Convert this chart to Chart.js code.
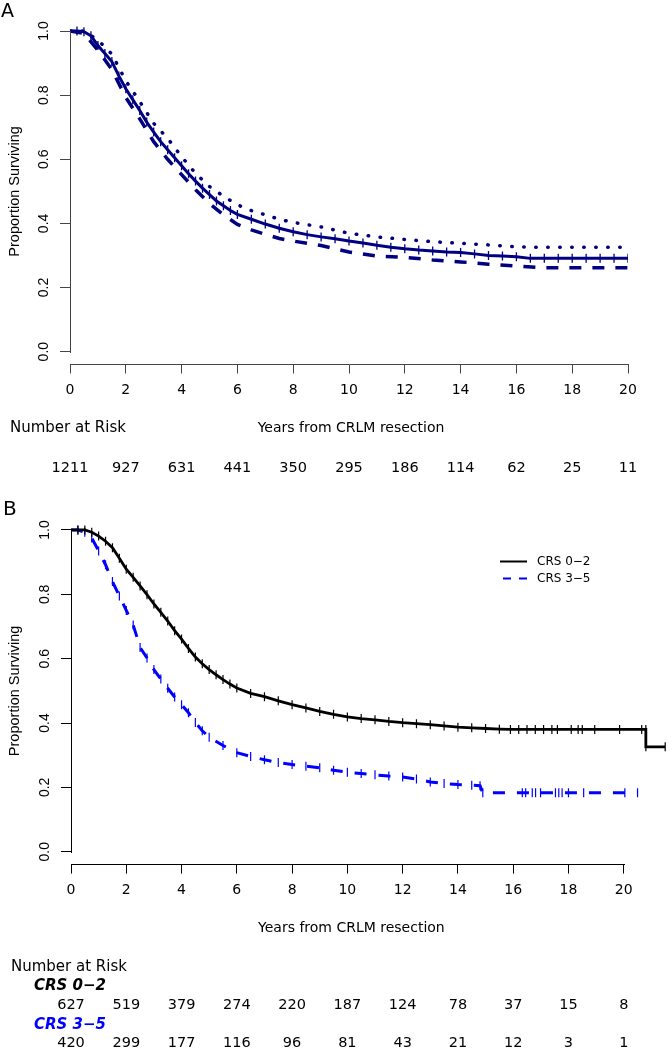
<!DOCTYPE html>
<html>
<head>
<meta charset="utf-8">
<script src="https://cdn.jsdelivr.net/npm/chart.js@4.4.0/dist/chart.umd.min.js"></script>
<style>
body { margin: 0; background: #fff; }
canvas { display: block; }
</style>
</head>
<body>
<canvas id="chartA" width="672" height="490"></canvas>
<canvas id="chartB" width="672" height="560"></canvas>
<script>
// values
var xTicks = [0, 2, 4, 6, 8, 10, 12, 14, 16, 18, 20];
var yTicks = [0, 0.2, 0.4, 0.6, 0.8, 1.0];

// A - all patients, KM estimate with confidence band
var timesA = [0, 0.25, 0.5, 0.75, 1, 1.25, 1.5, 1.75, 2, 2.25, 2.5, 2.75, 3, 3.25, 3.5, 3.75, 4, 4.25, 4.5, 4.75, 5, 5.25, 5.5, 5.75, 6,
  6.5, 7, 7.5, 8, 8.5, 9, 9.5, 10, 10.5, 11, 11.5, 12, 12.5, 13, 13.5, 14, 14.5, 15, 15.5, 16, 16.5, 17, 17.5, 18, 18.5, 19, 19.5, 20];
var survA = [1, 1, 0.998, 0.985, 0.955, 0.93, 0.905, 0.86, 0.82, 0.786, 0.752, 0.716, 0.685, 0.655, 0.63, 0.605, 0.58, 0.555, 0.532, 0.51, 0.49, 0.47, 0.455, 0.44, 0.428,
  0.413, 0.398, 0.385, 0.374, 0.365, 0.358, 0.352, 0.345, 0.339, 0.332, 0.326, 0.321, 0.317, 0.314, 0.311, 0.309, 0.305, 0.300, 0.298, 0.296, 0.291, 0.291, 0.291, 0.291, 0.291, 0.291, 0.291, 0.291];
var ciTimesA = [0, 0.5, 1, 1.5, 2, 2.5, 3, 3.5, 4, 4.5, 5, 5.5, 6, 6.5, 7, 7.5, 8, 9, 10, 11, 12, 13, 14, 15, 16, 17, 18, 19, 20];
var upperA = [1, 1, 0.972, 0.928, 0.845, 0.78, 0.712, 0.665, 0.608, 0.556, 0.515, 0.485, 0.458, 0.44, 0.427, 0.413, 0.403, 0.389, 0.369, 0.358, 0.35, 0.343, 0.338, 0.333, 0.327, 0.3255, 0.3255, 0.3255, 0.3255];
var lowerA = [1, 0.993, 0.94, 0.88, 0.793, 0.726, 0.655, 0.6, 0.552, 0.505, 0.462, 0.427, 0.397, 0.38, 0.366, 0.353, 0.345, 0.331, 0.311, 0.298, 0.294, 0.286, 0.28, 0.273, 0.267, 0.262, 0.262, 0.262, 0.262];
var riskA = [1211, 927, 631, 441, 350, 295, 186, 114, 62, 25, 11];

// B - by clinical risk score
var timesLow = [0, 0.25, 0.5, 0.75, 1, 1.25, 1.5, 1.75, 2, 2.25, 2.5, 2.75, 3, 3.25, 3.5, 3.75, 4, 4.25, 4.5, 4.75, 5, 5.25, 5.5, 5.75, 6,
  6.5, 7, 7.5, 8, 8.5, 9, 9.5, 10, 10.5, 11, 11.5, 12, 12.5, 13, 13.5, 14, 14.5, 15, 15.5, 15.9,
  16.2, 16.5, 16.8, 17.1, 17.4, 17.6, 18.1, 18.35, 18.5, 18.95, 19.85, 20.65, 20.8, 20.8, 21.5];
var survLow = [1, 1, 1, 0.993, 0.981, 0.965, 0.945, 0.912, 0.878, 0.853, 0.826, 0.799, 0.77, 0.744, 0.717, 0.687, 0.661, 0.632, 0.605, 0.584, 0.566, 0.55, 0.535, 0.521, 0.509,
  0.492, 0.482, 0.469, 0.457, 0.447, 0.436, 0.427, 0.419, 0.414, 0.41, 0.405, 0.401, 0.398, 0.395, 0.391, 0.387, 0.385, 0.383, 0.381, 0.38,
  0.38, 0.38, 0.38, 0.38, 0.38, 0.38, 0.38, 0.38, 0.38, 0.38, 0.38, 0.38, 0.38, 0.326, 0.326];
var timesHigh = [0, 0.25, 0.5, 0.75, 1, 1.25, 1.5, 1.75, 2, 2.25, 2.5, 2.75, 3, 3.25, 3.5, 3.75, 4, 4.25, 4.5, 4.75, 5,
  5.5, 6, 6.5, 7, 7.5, 8, 8.5, 9, 9.5, 10, 10.5, 11, 11.5, 12, 12.5, 13, 13.5, 14, 14.5, 14.8, 14.9,
  16.33, 16.45, 16.69, 16.81, 16.99, 17.53, 17.65, 17.77, 18.0, 18.55, 20.04, 20.5];
var survHigh = [1, 1, 0.993, 0.975, 0.935, 0.892, 0.84, 0.795, 0.75, 0.705, 0.635, 0.602, 0.566, 0.537, 0.508, 0.481, 0.457, 0.432, 0.402, 0.376, 0.356,
  0.33, 0.308, 0.296, 0.286, 0.277, 0.271, 0.266, 0.261, 0.253, 0.247, 0.243, 0.239, 0.235, 0.232, 0.226, 0.217, 0.212, 0.209, 0.207, 0.205, 0.183,
  0.183, 0.183, 0.183, 0.183, 0.183, 0.183, 0.183, 0.183, 0.183, 0.183, 0.183, 0.183];
var riskLow = [627, 519, 379, 274, 220, 187, 124, 78, 37, 15, 8];
var riskHigh = [420, 299, 177, 116, 96, 81, 43, 21, 12, 3, 1];

var groupNames = ['CRS 0\u22122', 'CRS 3\u22125'];

Chart.defaults.font.family = "'DejaVu Sans', sans-serif";
Chart.defaults.color = '#000';

var SANS = "'DejaVu Sans', sans-serif";
var ARIAL = "'Liberation Sans', Arial, sans-serif";

function pts(xs, ys) {
  return xs.map(function (x, i) { return {x: x, y: ys[i]}; });
}

// censor ticks on every estimate point except t = 0
function tickRadius(c) {
  return c.raw && c.raw.x > 0 ? 4.5 : 0;
}

function axes(xmax, leftWidth, col) {
  return {
    x: {
      type: 'linear', min: 0, max: xmax,
      afterBuildTicks: function (s) { s.ticks = xTicks.map(function (v) { return {value: v}; }); },
      afterFit: function (s) { s.height = 35; },
      grid: {drawOnChartArea: false, tickLength: 9, color: col},
      border: {display: false},
      ticks: {font: {size: 14}, padding: 8, maxRotation: 0, autoSkip: false,
        callback: function (v) { return String(v); }}
    },
    y: {
      type: 'linear', min: -0.04, max: 1.04,
      afterBuildTicks: function (s) { s.ticks = yTicks.map(function (v) { return {value: v}; }); },
      afterFit: function (s) { s.width = leftWidth; },
      grid: {drawOnChartArea: false, tickLength: 10, color: col},
      border: {display: false},
      ticks: {font: {family: ARIAL, size: 14}, padding: 6, minRotation: 90, maxRotation: 90,
        crossAlign: 'center', autoSkip: false,
        callback: function (v) { return v.toFixed(1); }},
      title: {display: true, text: 'Proportion Surviving', font: {family: ARIAL, size: 14.5},
        padding: {top: 6, bottom: 0}}
    }
  };
}

// R style axis lines: only from first to last tick
function rAxes(chart, col) {
  var ctx = chart.ctx, sx = chart.scales.x, sy = chart.scales.y, a = chart.chartArea;
  var by = Math.round(a.bottom - 0.5) + 0.5;
  var lx = Math.round(a.left - 0.5) + 0.5;
  ctx.save();
  ctx.strokeStyle = col;
  ctx.lineWidth = 1;
  ctx.beginPath();
  ctx.moveTo(Math.round(sx.getPixelForValue(xTicks[0])), by);
  ctx.lineTo(Math.round(sx.getPixelForValue(xTicks[xTicks.length - 1])) + 1, by);
  ctx.moveTo(lx, Math.round(sy.getPixelForValue(yTicks[0])) + 1);
  ctx.lineTo(lx, Math.round(sy.getPixelForValue(yTicks[yTicks.length - 1])));
  ctx.stroke();
  ctx.restore();
}

function txt(ctx, s, x, y, align, font, color) {
  ctx.font = font;
  ctx.fillStyle = color || '#000';
  ctx.textAlign = align;
  ctx.textBaseline = 'middle';
  ctx.fillText(s, x, y);
}

function riskRow(chart, values, y, font, color) {
  var sx = chart.scales.x;
  values.forEach(function (v, i) {
    txt(chart.ctx, String(v), sx.getPixelForValue(xTicks[i]), y, 'center', font, color);
  });
}

var extrasA = {
  id: 'extrasA',
  afterDraw: function (chart) {
    var ctx = chart.ctx, sx = chart.scales.x;
    rAxes(chart, '#444');
    ctx.save();
    txt(ctx, 'A', 1, 12, 'left', '19px ' + SANS);
    txt(ctx, 'Number at Risk', 10, 428, 'left', '15px ' + SANS);
    txt(ctx, 'Years from CRLM resection', sx.getPixelForValue(10) + 2, 428, 'center', '14px ' + SANS);
    riskRow(chart, riskA, 468, '14.5px ' + SANS);
    ctx.restore();
  }
};

var extrasB = {
  id: 'extrasB',
  afterDraw: function (chart) {
    var ctx = chart.ctx, sx = chart.scales.x;
    rAxes(chart, '#000');
    ctx.save();
    txt(ctx, 'B', 3, 20, 'left', '20px ' + SANS);
    // legend
    ctx.lineWidth = 2;
    ctx.strokeStyle = '#000';
    ctx.beginPath(); ctx.moveTo(500, 71.5); ctx.lineTo(527, 71.5); ctx.stroke();
    ctx.strokeStyle = '#0000ff';
    ctx.setLineDash([8, 8]);
    ctx.beginPath(); ctx.moveTo(503, 88.5); ctx.lineTo(527, 88.5); ctx.stroke();
    ctx.setLineDash([]);
    txt(ctx, groupNames[0], 537, 72, 'left', '12px ' + SANS);
    txt(ctx, groupNames[1], 537, 88.5, 'left', '12px ' + SANS);
    // x title and risk table
    txt(ctx, 'Years from CRLM resection', sx.getPixelForValue(10) + 4, 438, 'center', '14px ' + SANS);
    txt(ctx, 'Number at Risk', 11, 477, 'left', '15px ' + SANS);
    txt(ctx, groupNames[0], 34, 496, 'left', 'italic bold 15px ' + SANS, '#000');
    riskRow(chart, riskLow, 515, '14.5px ' + SANS);
    txt(ctx, groupNames[1], 34, 535, 'left', 'italic bold 15px ' + SANS, '#0000ff');
    riskRow(chart, riskHigh, 553, '14.5px ' + SANS);
    ctx.restore();
  }
};

new Chart(document.getElementById('chartA'), {
  type: 'scatter',
  data: {
    datasets: [{
      label: 'upper',
      data: pts(ciTimesA, upperA),
      showLine: true, borderColor: '#000080', borderWidth: 3.5,
      borderDash: [0.5, 11.5], borderCapStyle: 'round',
      pointRadius: 0, tension: 0
    }, {
      label: 'lower',
      data: pts(ciTimesA, lowerA),
      showLine: true, borderColor: '#000080', borderWidth: 3.5,
      borderDash: [12, 11], borderCapStyle: 'butt',
      pointRadius: 0, tension: 0
    }, {
      label: 'All patients',
      data: pts(timesA, survA),
      showLine: true, borderColor: '#000080', borderWidth: 3,
      pointStyle: 'line', pointRotation: 90, pointRadius: tickRadius,
      pointBorderColor: '#000080', pointBorderWidth: 1.3, tension: 0
    }]
  },
  options: {
    responsive: false, animation: false, devicePixelRatio: 1,
    layout: {padding: {top: 18.2, bottom: 90.5, left: 0, right: 44}},
    plugins: {legend: {display: false}, tooltip: {enabled: false}},
    scales: axes(20, 70, '#444')
  },
  plugins: [extrasA]
});

new Chart(document.getElementById('chartB'), {
  type: 'scatter',
  data: {
    datasets: [{
      label: groupNames[0],
      data: pts(timesLow, survLow),
      showLine: true, borderColor: '#000', borderWidth: 2.8,
      pointStyle: 'line', pointRotation: 90, pointRadius: tickRadius,
      pointBorderColor: '#000', pointBorderWidth: 1.2, tension: 0
    }, {
      label: groupNames[1],
      data: pts(timesHigh, survHigh),
      showLine: true, borderColor: '#0000ff', borderWidth: 3,
      borderDash: [12, 12],
      pointStyle: 'line', pointRotation: 90, pointRadius: tickRadius,
      pointBorderColor: '#0000ff', pointBorderWidth: 1.2, tension: 0
    }]
  },
  options: {
    responsive: false, animation: false, devicePixelRatio: 1,
    layout: {padding: {top: 27.1, bottom: 150.4, left: 0, right: 0}},
    plugins: {legend: {display: false}, tooltip: {enabled: false}},
    scales: axes(21.54, 71, '#000')
  },
  plugins: [extrasB]
});
</script>
</body>
</html>
